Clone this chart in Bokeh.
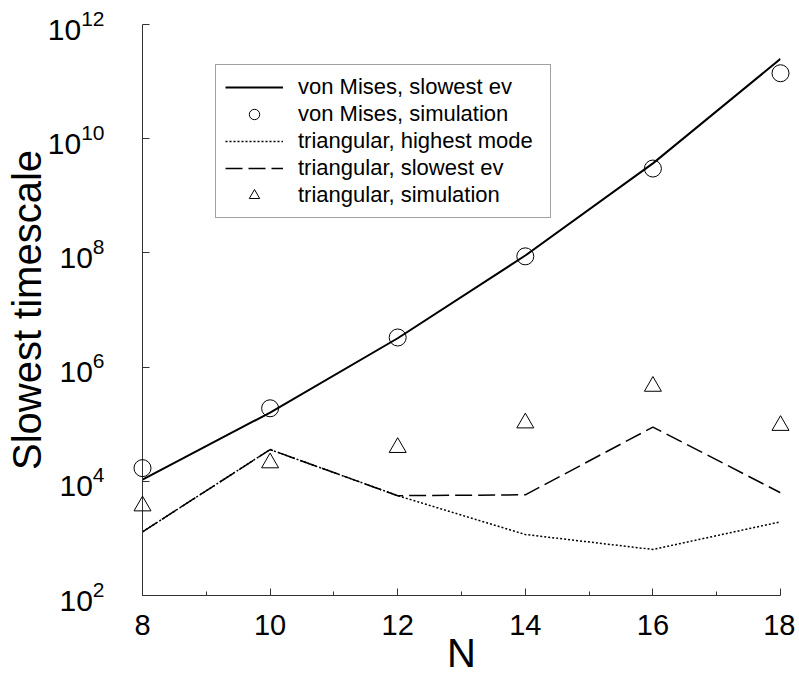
from bokeh.plotting import figure
from bokeh.models import FixedTicker, LogTickFormatter, Legend, LegendItem, Range1d
from bokeh.embed import file_html
from bokeh.resources import INLINE

# ---- data ----
N = [8, 10, 12, 14, 16, 18]
vm_slowest_ev = [1.07e4, 1.6e5, 3.2e6, 9.0e7, 3.7e9, 2.5e11]
vm_simulation = [1.7e4, 1.9e5, 3.3e6, 8.7e7, 3.0e9, 1.4e11]
tri_highest_mode = [1.3e3, 3.6e4, 5.6e3, 1.17e3, 6.4e2, 1.95e3]
tri_slowest_ev = [1.3e3, 3.6e4, 5.6e3, 5.8e3, 8.9e4, 6.3e3]
tri_simulation = [3.7e3, 2.1e4, 3.9e4, 1.05e5, 4.6e5, 9.5e4]

x_ticks = [8, 10, 12, 14, 16, 18]
x_minor = [9, 11, 13, 15, 17]
y_ticks = [1e2, 1e4, 1e6, 1e8, 1e10, 1e12]

FONT = "Liberation Sans"

p = figure(width=795, height=684, output_backend="svg", toolbar_location=None,
           x_range=Range1d(8, 18), y_range=Range1d(1e2, 1e12), y_axis_type="log",
           x_axis_label="N", y_axis_label="Slowest timescale",
           min_border_left=142, min_border_top=24, min_border_right=15,
           min_border_bottom=89)
p.outline_line_color = None
p.grid.visible = False
p.background_fill_color = "white"
p.border_fill_color = "white"

p.xaxis.ticker = FixedTicker(ticks=x_ticks, minor_ticks=x_minor)
p.yaxis.ticker = FixedTicker(ticks=y_ticks, minor_ticks=[])
p.yaxis.formatter = LogTickFormatter()

for ax in (p.xaxis[0], p.yaxis[0]):
    ax.axis_line_color = "#333333"
    ax.axis_line_width = 1
    ax.major_tick_in = 7
    ax.major_tick_out = 0
    ax.minor_tick_in = 4
    ax.minor_tick_out = 0
    ax.major_tick_line_color = "#333333"
    ax.minor_tick_line_color = "#333333"
    ax.major_label_text_font = FONT
    ax.major_label_text_color = "black"
    ax.axis_label_text_font = FONT
    ax.axis_label_text_font_size = "40px"
    ax.axis_label_text_font_style = "normal"
    ax.axis_label_text_color = "black"

p.xaxis.major_label_text_font_size = "29px"
p.yaxis.major_label_text_font_size = "30px"
p.xaxis.major_label_standoff = 19
p.xaxis.axis_label_standoff = -7
p.yaxis.major_label_standoff = 38
p.yaxis.axis_label_standoff = -4

r_vm = p.line(N, vm_slowest_ev, line_color="black", line_width=2)
r_vm_sim = p.scatter(N, vm_simulation, marker="circle", size=17, fill_color=None,
                     line_color="black", line_width=1, level="overlay")
r_hi = p.line(N, tri_highest_mode, line_color="black", line_width=1.5, line_dash="2 2")
r_sl = p.line(N, tri_slowest_ev, line_color="black", line_width=1.5, line_dash="17 6")
r_tri_sim = p.scatter(N, tri_simulation, marker="triangle", size=17, fill_color=None,
                      line_color="black", line_width=1, level="overlay")

legend = Legend(items=[
    LegendItem(label="von Mises, slowest ev", renderers=[r_vm]),
    LegendItem(label="von Mises, simulation", renderers=[r_vm_sim]),
    LegendItem(label="triangular, highest mode", renderers=[r_hi]),
    LegendItem(label="triangular, slowest ev", renderers=[r_sl]),
    LegendItem(label="triangular, simulation", renderers=[r_tri_sim]),
], location=(73, 377))
legend.label_text_font = FONT
legend.label_text_font_size = "22px"
legend.label_text_color = "black"
legend.glyph_width = 58
legend.glyph_height = 26
legend.label_height = 26
legend.label_width = 243
legend.label_standoff = 15
legend.padding = 9
legend.spacing = 1
legend.margin = 0
legend.border_line_color = "#444444"
legend.border_line_width = 1
legend.background_fill_alpha = 1
p.add_layout(legend)

open("out.html", "w").write(file_html(p, INLINE))
